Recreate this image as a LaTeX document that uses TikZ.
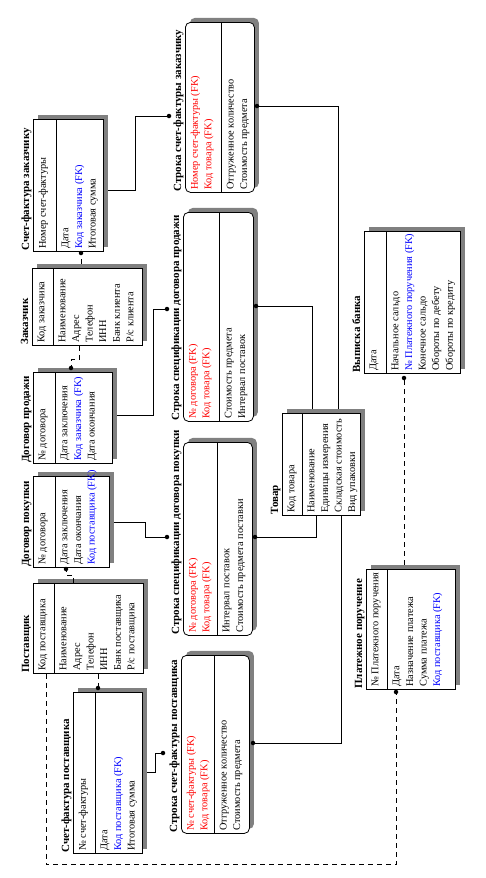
\documentclass[tikz,border=0pt]{standalone}
\usepackage{fontspec}
\setmainfont{Liberation Serif}
\usepackage{xcolor}
\definecolor{fkred}{RGB}{255,0,0}
\definecolor{fkblue}{RGB}{0,0,255}
\definecolor{ten}{RGB}{128,128,128}
\usepackage{tikz}
\usetikzlibrary{calc,shadows}

\tikzset{
  ent/.style={draw,fill=white,line width=0.8pt,anchor=north west,inner sep=0pt,
    drop shadow={shadow xshift=4.5pt,shadow yshift=4.5pt,fill=ten,opacity=1}},
  dep/.style={ent,rounded corners=5pt},
  ttl/.style={rotate=90,anchor=base west,inner sep=0pt,font=\bfseries\fontsize{11}{13}\selectfont},
  txt/.style={rotate=90,anchor=north west,align=left,inner xsep=3pt,inner ysep=5.5pt,
    font=\fontsize{10.3}{13.6}\selectfont},
  rel/.style={line width=0.8pt},
  nid/.style={rel,dash pattern=on 5pt off 4pt},
  spot/.style={circle,fill,inner sep=0pt,minimum size=4.5pt},
}

\begin{document}
\begin{tikzpicture}[x=1pt,y=1pt]
  \useasboundingbox (0,0) rectangle (486,-878);

  % --- Поставщик
  \node[ent,minimum width=110,minimum height=90] (postav) at (33,-583) {};
  \draw[rel] ([xshift=21]postav.north west) -- ([xshift=21]postav.south west);
  \node[ttl] (postav-t) at ([xshift=-4,yshift=1]postav.south west) {Поставщик};
  \node[txt] (postav-k) at (postav.south west) {Код поставщика};
  \node[txt] (postav-a) at ([xshift=21]postav.south west)
    {Наименование\\Адрес\\Телефон\\ИНН\\Банк поставщика\\Р/с поставщика};

  % --- Счет-фактура поставщика
  \node[ent,minimum width=69,minimum height=161] (sfpost) at (73,-692) {};
  \draw[rel] ([xshift=22]sfpost.north west) -- ([xshift=22]sfpost.south west);
  \node[ttl] (sfpost-t) at ([xshift=-4,yshift=1]sfpost.south west) {Счет-фактура поставщика};
  \node[txt] (sfpost-k) at (sfpost.south west) {№ счет-фактуры};
  \node[txt] (sfpost-a) at ([xshift=22]sfpost.south west)
    {Дата\\\textcolor{fkblue}{Код поставщика (FK)}\\Итоговая сумма};

  % --- Строка счет-фактуры поставщика
  \node[dep,minimum width=68,minimum height=178] (strsfpost) at (181,-655) {};
  \draw[rel] ([xshift=33]strsfpost.north west) -- ([xshift=33]strsfpost.south west);
  \node[ttl] (strsfpost-t) at ([xshift=-4,yshift=1]strsfpost.south west) {Строка счет-фактуры поставщика};
  \node[txt,text=fkred] (strsfpost-k) at (strsfpost.south west) {№ счет-фактуры (FK)\\Код товара (FK)};
  \node[txt] (strsfpost-a) at ([xshift=33]strsfpost.south west)
    {Отгруженное количество\\Стоимость предмета};

  % --- Договор покупки
  \node[ent,minimum width=76,minimum height=91] (dogpok) at (33,-476) {};
  \draw[rel] ([xshift=22]dogpok.north west) -- ([xshift=22]dogpok.south west);
  \node[ttl] (dogpok-t) at ([xshift=-4,yshift=1]dogpok.south west) {Договор покупки};
  \node[txt] (dogpok-k) at (dogpok.south west) {№ договора};
  \node[txt] (dogpok-a) at ([xshift=22]dogpok.south west)
    {Дата заключения\\Дата окончания\\\textcolor{fkblue}{Код поставщика (FK)}};

  % --- Строка спецификации договора покупки
  \node[dep,minimum width=69,minimum height=193] (strspecpok) at (183,-442) {};
  \draw[rel] ([xshift=34]strspecpok.north west) -- ([xshift=34]strspecpok.south west);
  \node[ttl] (strspecpok-t) at ([xshift=-4,yshift=1]strspecpok.south west) {Строка спецификации договора покупки};
  \node[txt,text=fkred] (strspecpok-k) at (strspecpok.south west) {№ договора (FK)\\Код товара (FK)};
  \node[txt] (strspecpok-a) at ([xshift=34]strspecpok.south west)
    {Интервал поставок\\Стоимость предмета поставки};

  % --- Договор продажи
  \node[ent,minimum width=79,minimum height=91] (dogprod) at (33,-372) {};
  \draw[rel] ([xshift=22]dogprod.north west) -- ([xshift=22]dogprod.south west);
  \node[ttl] (dogprod-t) at ([xshift=-4,yshift=1]dogprod.south west) {Договор продажи};
  \node[txt] (dogprod-k) at (dogprod.south west) {№ договора};
  \node[txt] (dogprod-a) at ([xshift=22]dogprod.south west)
    {Дата заключения\\\textcolor{fkblue}{Код заказчика (FK)}\\Дата окончания};

  % --- Заказчик
  \node[ent,minimum width=110,minimum height=77] (zakaz) at (32,-268) {};
  \draw[rel] ([xshift=21]zakaz.north west) -- ([xshift=21]zakaz.south west);
  \node[ttl] (zakaz-t) at ([xshift=-4,yshift=1]zakaz.south west) {Заказчик};
  \node[txt] (zakaz-k) at (zakaz.south west) {Код заказчика};
  \node[txt] (zakaz-a) at ([xshift=21]zakaz.south west)
    {Наименование\\Адрес\\Телефон\\ИНН\\Банк клиента\\Р/с клиента};

  % --- Счет-фактура заказчику
  \node[ent,minimum width=70,minimum height=132] (sfzak) at (33,-119) {};
  \draw[rel] ([xshift=23]sfzak.north west) -- ([xshift=23]sfzak.south west);
  \node[ttl] (sfzak-t) at ([xshift=-4,yshift=1]sfzak.south west) {Счет-фактура заказчику};
  \node[txt] (sfzak-k) at (sfzak.south west) {Номер счет-фактуры};
  \node[txt] (sfzak-a) at ([xshift=23]sfzak.south west)
    {Дата\\\textcolor{fkblue}{Код заказчика (FK)}\\Итоговая сумма};

  % --- Строка спецификации договора продажи
  \node[dep,minimum width=70,minimum height=209] (strspecprod) at (183,-212) {};
  \draw[rel] ([xshift=36]strspecprod.north west) -- ([xshift=36]strspecprod.south west);
  \node[ttl] (strspecprod-t) at ([xshift=-4,yshift=1]strspecprod.south west) {Строка спецификации договора продажи};
  \node[txt,text=fkred] (strspecprod-k) at (strspecprod.south west) {№ договора (FK)\\Код товара (FK)};
  \node[txt] (strspecprod-a) at ([xshift=36]strspecprod.south west)
    {Стоимость предмета\\Интервал поставок};

  % --- Строка счет-фактуры заказчику
  \node[dep,minimum width=69,minimum height=170] (strsfzak) at (185,-22) {};
  \draw[rel] ([xshift=36]strsfzak.north west) -- ([xshift=36]strsfzak.south west);
  \node[ttl] (strsfzak-t) at ([xshift=-4,yshift=1]strsfzak.south west) {Строка счет-фактуры заказчику};
  \node[txt,text=fkred] (strsfzak-k) at (strsfzak.south west) {Номер счет-фактуры (FK)\\Код товара (FK)};
  \node[txt] (strsfzak-a) at ([xshift=36]strsfzak.south west)
    {Отгруженное количество\\Стоимость предмета};

  % --- Товар
  \node[ent,minimum width=78,minimum height=102] (tovar) at (282,-413) {};
  \draw[rel] ([xshift=20]tovar.north west) -- ([xshift=20]tovar.south west);
  \node[ttl] (tovar-t) at ([xshift=-4,yshift=1]tovar.south west) {Товар};
  \node[txt] (tovar-k) at (tovar.south west) {Код товара};
  \node[txt] (tovar-a) at ([xshift=20]tovar.south west)
    {Наименование\\Единицы измерения\\Складская стоимость\\Вид упаковки};

  % --- Платежное поручение
  \node[ent,minimum width=89,minimum height=120] (platpor) at (366,-569) {};
  \draw[rel] ([xshift=21]platpor.north west) -- ([xshift=21]platpor.south west);
  \node[ttl] (platpor-t) at ([xshift=-4,yshift=1]platpor.south west) {Платежное поручение};
  \node[txt] (platpor-k) at (platpor.south west) {№ Платежного поручения};
  \node[txt] (platpor-a) at ([xshift=21]platpor.south west)
    {Дата\\Назначение платежа\\Сумма платежа\\\textcolor{fkblue}{Код поставщика (FK)}};

  % --- Выписка банка
  \node[ent,minimum width=96,minimum height=142] (vypiska) at (364,-231) {};
  \draw[rel] ([xshift=22]vypiska.north west) -- ([xshift=22]vypiska.south west);
  \node[ttl] (vypiska-t) at ([xshift=-4,yshift=1]vypiska.south west) {Выписка банка};
  \node[txt] (vypiska-k) at (vypiska.south west) {Дата};
  \node[txt] (vypiska-a) at ([xshift=22]vypiska.south west)
    {Начальное сальдо\\\textcolor{fkblue}{№ Платежного поручения (FK)}\\Конечное сальдо\\Обороты по дебету\\Обороты по кредиту};

  % --- концы связей
  \node[spot] (d-sfpost) at (98,-688) {};
  \node[spot] (d-dogpok) at (66,-569) {};
  \node[spot] (d-platpor) at (396,-692) {};
  \node[spot] (d-strspecpok-a) at (167,-537) {};
  \node[spot] (d-strspecprod-a) at (167,-309) {};
  \node[spot] (d-dogprod) at (71,-368) {};
  \node[spot] (d-sfzak) at (81,-253) {};
  \node[spot] (d-strsfzak-a) at (169,-116) {};
  \node[spot] (d-strsfpost-a) at (163,-753) {};
  \node[spot] (d-strsfpost-b) at (253,-743) {};
  \node[spot] (d-strspecpok-b) at (255,-537) {};
  \node[spot] (d-strspecprod-b) at (256,-306) {};
  \node[spot] (d-strsfzak-b) at (257,-106) {};
  \node[spot] (d-vypiska) at (404,-378) {};

  % --- связи
  \draw[nid] (postav.south -| d-sfpost) -- (d-sfpost);
  \draw[nid] ([xshift=40]postav.north west) -- ++(0,8) -| (d-dogpok);
  \draw[nid] ([xshift=13]postav.south west) -- ++(0,-191) -| (d-platpor);
  \draw[rel] ([xshift=4.5]dogpok.east) -- ++(31,0) |- (d-strspecpok-a);
  \draw[rel] ([xshift=4.5,yshift=3]dogprod.east) -- ++(36,0) |- (d-strspecprod-a);
  \draw[nid] ([xshift=47]zakaz.south west) -- ++(0,-14) -| (d-dogprod);
  \draw[nid] ([xshift=49,yshift=4.5]zakaz.north west) -- (d-sfzak);
  \draw[rel] ([xshift=4.5,yshift=-71]sfzak.north east) -- ++(27.5,0) |- (d-strsfzak-a);
  \draw[rel] ([xshift=4.5,yshift=-80]sfpost.north east) -- ++(8.5,0) |- (d-strsfpost-a);
  \draw[rel] ([xshift=59]tovar.south west) |- (d-strsfpost-b);
  \draw[rel] ([xshift=34]tovar.south west) |- (d-strspecpok-b);
  \draw[rel] ([xshift=30,yshift=4.5]tovar.north west) |- (d-strspecprod-b);
  \draw[rel] ([xshift=56,yshift=4.5]tovar.north west) |- (d-strsfzak-b);
  \draw[nid] ([xshift=38,yshift=4.5]platpor.north west) -- (d-vypiska);
\end{tikzpicture}
\end{document}
